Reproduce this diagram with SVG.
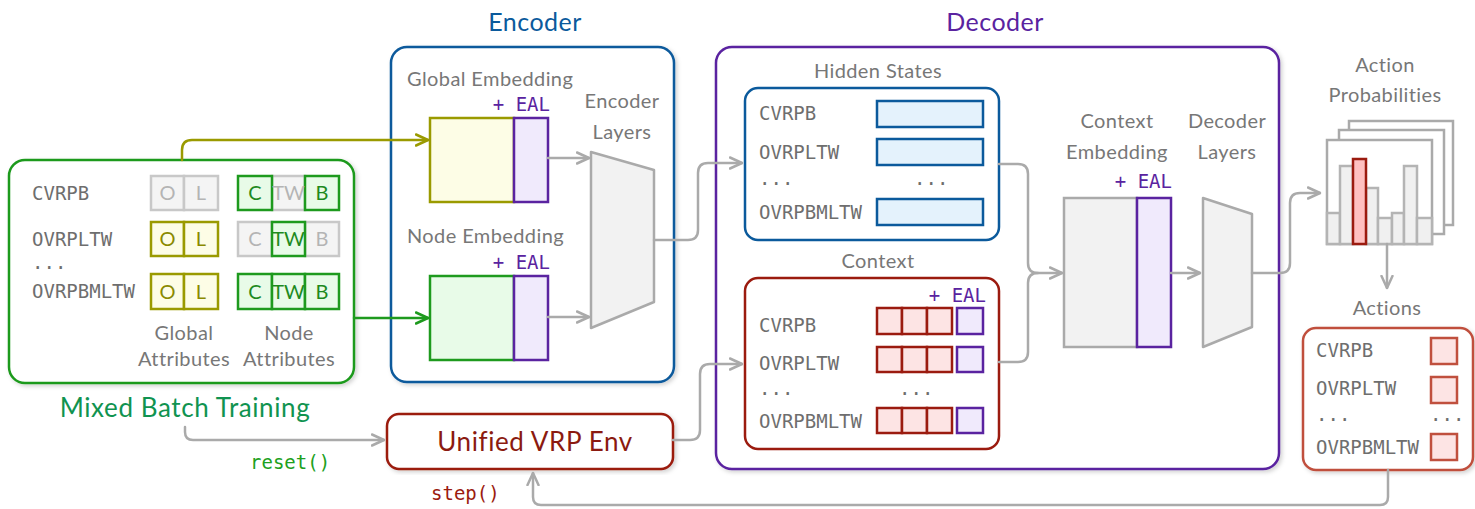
<svg xmlns="http://www.w3.org/2000/svg" width="1475" height="509" viewBox="0 0 1475 509">
<style>
.sans{font-family:Lato,"Open Sans","DejaVu Sans",sans-serif;}
.mono{font-family:"DejaVu Sans Mono","Liberation Mono",monospace;}
.lbl{font-size:20px;fill:#777;letter-spacing:0.4px;}
.ml{font-size:19px;fill:#6e6e6e;}
.eal{font-size:19px;fill:#5a23a0;}
.conn{fill:none;stroke:#aaa;stroke-width:2.5;stroke-linecap:round;stroke-linejoin:round;}
.gbox{fill:#f4f4f4;stroke:#c8c8c8;stroke-width:2.5;}
.obox{fill:#fdfde6;stroke:#9a9a00;stroke-width:2.5;}
.nbox{fill:#e8fbe8;stroke:#1e9a1e;stroke-width:2.5;}
.pbox{fill:#f0eafc;stroke:#5a23a0;stroke-width:2.5;}
.bbar{fill:#e4f2fc;stroke:#0b5a9c;stroke-width:2.5;}
.rbox{fill:#fde4e4;stroke:#9b1b0f;stroke-width:2.5;}
.abox{fill:#fde4e4;stroke:#c0503e;stroke-width:2.5;}
.trap{fill:#f2f2f2;stroke:#aaa;stroke-width:2.5;stroke-linejoin:round;}
.bar{fill:#f0f0f0;stroke:#b4b4b4;stroke-width:2.5;}
.frame{fill:#fff;stroke:#aaa;stroke-width:2.5;}
.big{stroke-width:2.5;fill:#fff;filter:url(#sh);}
.it{font-size:20px;text-anchor:middle;}
.title{font-size:25px;text-anchor:middle;letter-spacing:0.5px;}
.bigt{font-size:26px;text-anchor:middle;letter-spacing:0.6px;}
</style>
<defs>
<filter id="sh" x="-10%" y="-10%" width="120%" height="120%">
<feDropShadow dx="2" dy="2" stdDeviation="2" flood-color="#000" flood-opacity="0.18"/>
</filter>
<marker id="ag" viewBox="0 0 14 14" refX="13" refY="7" markerWidth="14" markerHeight="14" markerUnits="userSpaceOnUse" orient="auto"><path d="M1,1.5 L13,7 L1,12.5" fill="none" stroke="#aaa" stroke-width="2.5" stroke-linecap="round" stroke-linejoin="round"/></marker>
<marker id="ao" viewBox="0 0 14 14" refX="13" refY="7" markerWidth="14" markerHeight="14" markerUnits="userSpaceOnUse" orient="auto"><path d="M1,1.5 L13,7 L1,12.5" fill="none" stroke="#9a9a00" stroke-width="2.5" stroke-linecap="round" stroke-linejoin="round"/></marker>
<marker id="an" viewBox="0 0 14 14" refX="13" refY="7" markerWidth="14" markerHeight="14" markerUnits="userSpaceOnUse" orient="auto"><path d="M1,1.5 L13,7 L1,12.5" fill="none" stroke="#1e9a1e" stroke-width="2.5" stroke-linecap="round" stroke-linejoin="round"/></marker>
</defs>
<rect width="1475" height="509" fill="#fff"/>

<!-- Mixed Batch Training -->
<g id="mixed-batch">
<rect class="big" x="9" y="160" width="345" height="223" rx="16" stroke="#1e9a1e"/>
<text class="mono ml" x="32" y="200">CVRPB</text>
<text class="mono ml" x="32" y="246">OVRPLTW</text>
<text class="mono ml" x="32" y="269">...</text>
<text class="mono ml" x="32" y="298">OVRPBMLTW</text>
<rect class="gbox" x="151" y="176" width="33" height="34"/><rect class="gbox" x="184" y="176" width="34" height="34"/>
<rect class="obox" x="151" y="222" width="33" height="34"/><rect class="obox" x="184" y="222" width="34" height="34"/>
<rect class="obox" x="151" y="274" width="33" height="35"/><rect class="obox" x="184" y="274" width="34" height="35"/>
<rect class="gbox" x="272" y="176" width="33" height="34"/>
<rect class="nbox" x="238" y="176" width="34" height="34"/><rect class="nbox" x="305" y="176" width="34" height="34"/>
<rect class="gbox" x="238" y="222" width="34" height="34"/><rect class="gbox" x="305" y="222" width="34" height="34"/>
<rect class="nbox" x="272" y="222" width="33" height="34"/>
<rect class="nbox" x="238" y="274" width="34" height="35"/><rect class="nbox" x="272" y="274" width="33" height="35"/><rect class="nbox" x="305" y="274" width="34" height="35"/>
<g class="sans it">
<text x="167.5" y="200" fill="#b4b4b4">O</text><text x="201" y="200" fill="#b4b4b4">L</text>
<text x="255" y="200" fill="#1e8a1e">C</text><text x="288.5" y="200" fill="#b4b4b4">TW</text><text x="322" y="200" fill="#1e8a1e">B</text>
<text x="167.5" y="246" fill="#8a8a00">O</text><text x="201" y="246" fill="#8a8a00">L</text>
<text x="255" y="246" fill="#b4b4b4">C</text><text x="288.5" y="246" fill="#1e8a1e">TW</text><text x="322" y="246" fill="#b4b4b4">B</text>
<text x="167.5" y="299" fill="#8a8a00">O</text><text x="201" y="299" fill="#8a8a00">L</text>
<text x="255" y="299" fill="#1e8a1e">C</text><text x="288.5" y="299" fill="#1e8a1e">TW</text><text x="322" y="299" fill="#1e8a1e">B</text>
</g>
<text class="sans lbl" x="184" y="340" text-anchor="middle">Global</text>
<text class="sans lbl" x="184" y="366" text-anchor="middle">Attributes</text>
<text class="sans lbl" x="289" y="340" text-anchor="middle">Node</text>
<text class="sans lbl" x="289" y="366" text-anchor="middle">Attributes</text>
<text class="sans bigt" x="185" y="417" fill="#109350">Mixed Batch Training</text>
</g>

<!-- Encoder -->
<g id="encoder">
<text class="sans title" x="535" y="31" fill="#0b5a9c">Encoder</text>
<rect class="big" x="391" y="47" width="283" height="335" rx="16" stroke="#0b5a9c"/>
<text class="sans lbl" x="407" y="86">Global Embedding</text>
<text class="mono eal" x="550" y="111" text-anchor="end">+ EAL</text>
<rect class="obox" x="430" y="118" width="84" height="84"/>
<rect class="pbox" x="514" y="118" width="34" height="84"/>
<text class="sans lbl" x="407" y="243">Node Embedding</text>
<text class="mono eal" x="550" y="269" text-anchor="end">+ EAL</text>
<rect class="nbox" x="430" y="276" width="84" height="84"/>
<rect class="pbox" x="514" y="276" width="34" height="84"/>
<text class="sans lbl" x="622" y="108" text-anchor="middle">Encoder</text>
<text class="sans lbl" x="622" y="139" text-anchor="middle">Layers</text>
<polygon class="trap" points="591,152 654,170 654,302 591,328"/>
</g>

<!-- Decoder -->
<g id="decoder">
<text class="sans title" x="995" y="31" fill="#5a23a0">Decoder</text>
<rect class="big" x="716" y="47" width="563" height="422" rx="16" stroke="#5a23a0"/>
</g>

<g id="hidden-states">
<text class="sans lbl" x="878" y="78" text-anchor="middle">Hidden States</text>
<rect x="745" y="88" width="254" height="152" rx="13" fill="#fff" stroke="#0b5a9c" stroke-width="2.5"/>
<text class="mono ml" x="759" y="120">CVRPB</text>
<text class="mono ml" x="759" y="159">OVRPLTW</text>
<text class="mono ml" x="759" y="185">...</text>
<text class="mono ml" x="914" y="185">...</text>
<text class="mono ml" x="759" y="219">OVRPBMLTW</text>
<rect class="bbar" x="877" y="101" width="106" height="26"/>
<rect class="bbar" x="877" y="139" width="106" height="26"/>
<rect class="bbar" x="877" y="199" width="106" height="26"/>
</g>

<g id="context">
<text class="sans lbl" x="878" y="268" text-anchor="middle">Context</text>
<rect x="745" y="278" width="254" height="171" rx="13" fill="#fff" stroke="#9b1b0f" stroke-width="2.5"/>
<text class="mono eal" x="986" y="302" text-anchor="end">+ EAL</text>
<text class="mono ml" x="759" y="332">CVRPB</text>
<text class="mono ml" x="759" y="370">OVRPLTW</text>
<text class="mono ml" x="759" y="395">...</text>
<text class="mono ml" x="899" y="395">...</text>
<text class="mono ml" x="759" y="428">OVRPBMLTW</text>
<rect class="rbox" x="877" y="308" width="25" height="26"/><rect class="rbox" x="902" y="308" width="25" height="26"/><rect class="rbox" x="927" y="308" width="25" height="26"/><rect class="pbox" x="957" y="308" width="26" height="26"/>
<rect class="rbox" x="877" y="347" width="25" height="25"/><rect class="rbox" x="902" y="347" width="25" height="25"/><rect class="rbox" x="927" y="347" width="25" height="25"/><rect class="pbox" x="957" y="347" width="26" height="25"/>
<rect class="rbox" x="877" y="408" width="25" height="25"/><rect class="rbox" x="902" y="408" width="25" height="25"/><rect class="rbox" x="927" y="408" width="25" height="25"/><rect class="pbox" x="957" y="408" width="26" height="25"/>
</g>

<g id="context-embedding">
<text class="sans lbl" x="1117" y="128" text-anchor="middle">Context</text>
<text class="sans lbl" x="1117" y="159" text-anchor="middle">Embedding</text>
<text class="mono eal" x="1172" y="188" text-anchor="end">+ EAL</text>
<rect x="1064" y="198" width="73" height="149" fill="#f2f2f2" stroke="#aaa" stroke-width="2.5"/>
<rect class="pbox" x="1137" y="198" width="34" height="149"/>
</g>

<g id="decoder-layers">
<text class="sans lbl" x="1227" y="128" text-anchor="middle">Decoder</text>
<text class="sans lbl" x="1227" y="159" text-anchor="middle">Layers</text>
<polygon class="trap" points="1203,198 1252,214 1252,327 1203,347"/>
</g>

<g id="action-probabilities">
<text class="sans lbl" x="1385" y="72" text-anchor="middle">Action</text>
<text class="sans lbl" x="1385" y="102" text-anchor="middle">Probabilities</text>
<rect class="frame" x="1349" y="121" width="104" height="104"/>
<rect class="frame" x="1339" y="130" width="105" height="104"/>
<rect class="frame" x="1327" y="140" width="105" height="104"/>
<rect class="bar" x="1327" y="213" width="13" height="31"/>
<rect class="bar" x="1340" y="166" width="13" height="78"/>
<rect class="bar" x="1366" y="188" width="12" height="56"/>
<rect class="bar" x="1378" y="218" width="14" height="26"/>
<rect class="bar" x="1392" y="213" width="12" height="31"/>
<rect class="bar" x="1404" y="166" width="13" height="78"/>
<rect class="bar" x="1417" y="218" width="15" height="26"/>
<rect x="1353" y="159" width="13" height="85" fill="#ffc0c0" stroke="#9b1b0f" stroke-width="2.5"/>
</g>

<g id="actions">
<text class="sans lbl" x="1387" y="315" text-anchor="middle">Actions</text>
<rect class="big" x="1303" y="328" width="170" height="142" rx="13" stroke="#c0503e"/>
<text class="mono ml" x="1316" y="357">CVRPB</text>
<text class="mono ml" x="1316" y="395">OVRPLTW</text>
<text class="mono ml" x="1316" y="421">...</text>
<text class="mono ml" x="1430" y="421">...</text>
<text class="mono ml" x="1316" y="454">OVRPBMLTW</text>
<rect class="abox" x="1431" y="338" width="26" height="26"/>
<rect class="abox" x="1431" y="377" width="26" height="26"/>
<rect class="abox" x="1431" y="434" width="26" height="26"/>
</g>

<g id="env">
<rect class="big" x="387" y="414" width="286" height="55" rx="12" stroke="#9b1b0f"/>
<text class="sans bigt" x="535" y="451" fill="#8b1a10">Unified VRP Env</text>
</g>

<g id="connectors">
<path class="conn" d="M182,160 V150 Q182,140 192,140 H428" style="stroke:#9a9a00" marker-end="url(#ao)"/>
<path class="conn" d="M354,318 H428" style="stroke:#1e9a1e" marker-end="url(#an)"/>
<path class="conn" d="M548,158 H589" marker-end="url(#ag)"/>
<path class="conn" d="M548,317 H589" marker-end="url(#ag)"/>
<path class="conn" d="M654,240 H688 Q698,240 698,230 V173 Q698,163 708,163 H742" marker-end="url(#ag)"/>
<path class="conn" d="M673,440 H690 Q700,440 700,430 V374 Q700,364 710,364 H742" marker-end="url(#ag)"/>
<path class="conn" d="M999,164 H1018 Q1028,164 1028,174 V263 Q1028,273 1038,273 H1062" marker-end="url(#ag)"/>
<path class="conn" d="M999,362 H1018 Q1028,362 1028,352 V283 Q1028,273 1038,273"/>
<path class="conn" d="M1171,273 H1200" marker-end="url(#ag)"/>
<path class="conn" d="M1252,273 H1280 Q1290,273 1290,263 V203 Q1290,193 1300,193 H1320" marker-end="url(#ag)"/>
<path class="conn" d="M1387,244 V288" marker-end="url(#ag)"/>
<path class="conn" d="M185,427 V432 Q185,440 193,440 H384" marker-end="url(#ag)"/>
<path class="conn" d="M1388,470 V497 Q1388,505 1380,505 H541 Q533,505 533,497 V473" marker-end="url(#ag)"/>
<text class="mono" x="250" y="469" font-size="19" fill="#20a020">reset()</text>
<text class="mono" x="431" y="500" font-size="19" fill="#9b1b0f">step()</text>
</g>
</svg>
